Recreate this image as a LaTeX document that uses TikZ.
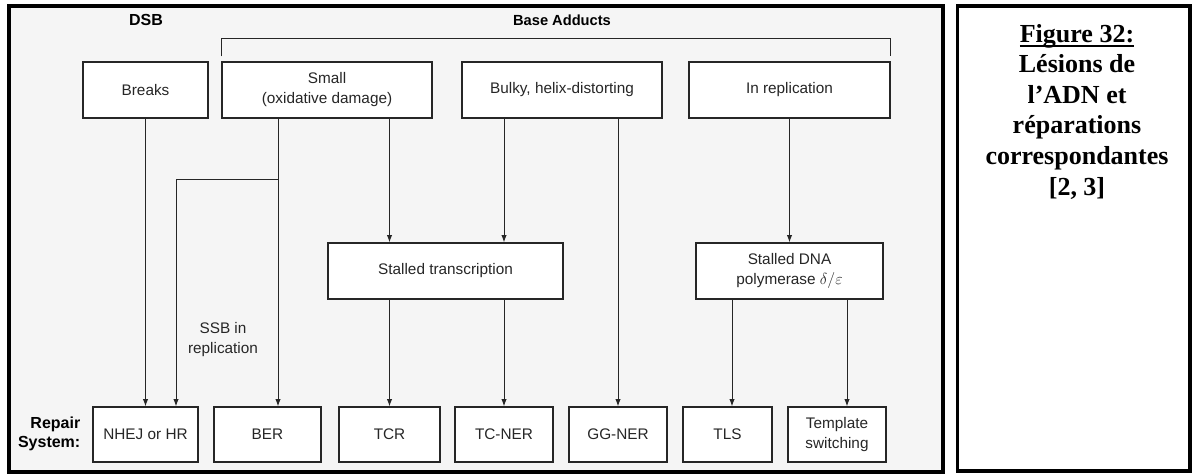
\documentclass[tikz,border=0pt]{standalone}
\usepackage{fontspec}
\setmainfont{Liberation Serif}
\setsansfont{Liberation Sans}
\usetikzlibrary{arrows.meta}

\newcommand{\capuline}[1]{\setbox0\hbox{#1}\rlap{\rule[-3.2pt]{\wd0}{1.4pt}}\box0}

\begin{document}
\begin{tikzpicture}[x=0.75pt, y=-0.75pt, color=black!85, font=\sffamily\fontsize{11.5}{15}\selectfont]
\tikzstyle{block} = [rectangle, draw, fill=white, line width=0.9pt, align=center, inner sep=2pt]
\tikzstyle{lesion} = [block, minimum height=42pt]
\tikzstyle{stall} = [block, minimum height=42pt]
\tikzstyle{repair} = [block, minimum height=41.25pt]
\tikzstyle{heading} = [font=\sffamily\bfseries\fontsize{11}{14}\selectfont, text=black]
\tikzstyle{arrow} = [-{Latex[length=5.5pt,width=4pt]}, line width=0.7pt]
\useasboundingbox (0,0) rectangle (1194,475);
\draw[line width=3pt, fill=black!4, draw=black] (8.7,6) rectangle (942.5,472);
\draw[line width=2.6pt, fill=white, draw=black] (957.5,6) rectangle (1190,471);
\node[heading, font=\sffamily\bfseries\fontsize{12}{14}\selectfont] (dsb) at (146,20) {DSB};
\node[heading] (adducts) at (562,20) {Base Adducts};
\node[lesion, minimum width=93.75pt] (breaks) at (145.5,90) {Breaks};
\node[lesion, minimum width=157.5pt] (small) at (327,90) {Small\\(oxidative damage)};
\node[lesion, minimum width=150pt] (bulky) at (562,90) {Bulky, helix-distorting};
\node[lesion, minimum width=150.75pt] (inrep) at (789.5,90) {In replication};
\node[stall, minimum width=176.25pt] (stalltr) at (445.5,271) {Stalled transcription};
\node[stall, minimum width=140.25pt] (stallpol) at (789.5,271) {Stalled DNA\\polymerase $\delta/\varepsilon$};
\node[repair, minimum width=78.75pt] (nhej) at (145.5,434.5) {NHEJ or HR};
\node[repair, minimum width=80.25pt] (ber) at (267.5,434.5) {BER};
\node[repair, minimum width=75.75pt] (tcr) at (389.5,434.5) {TCR};
\node[repair, minimum width=73.5pt] (tcner) at (504,434.5) {TC-NER};
\node[repair, minimum width=73.5pt] (ggner) at (618,434.5) {GG-NER};
\node[repair, minimum width=66.75pt] (tls) at (727.5,434.5) {TLS};
\node[repair, minimum width=73.5pt] (templ) at (837,434.5) {Template\\switching};
\node[heading, font=\sffamily\bfseries\fontsize{12}{14}\selectfont, anchor=east, align=right] (repsys) at (85,434) {Repair\\System:};
\node[align=center] (ssb) at (223,340) {SSB in\\replication};
\coordinate (ssbx) at (278,179);
\coordinate (hrx) at (176,179);
\coordinate (tlsx) at (732,0);
\coordinate (tsx) at (847,0);
\draw[line width=0.7pt] ([yshift=3.75pt]small.north west) |- ([yshift=17.25pt]inrep.north east) -- ([yshift=3.75pt]inrep.north east);
\draw[arrow] (breaks.south) -- (nhej.north);
\draw[arrow] (small.south -| ssbx) -- (ber.north -| ssbx);
\draw[arrow] (ssbx) -- (hrx) -- (nhej.north -| hrx);
\draw[arrow] (small.south -| tcr) -- (stalltr.north -| tcr);
\draw[arrow] (bulky.south -| tcner) -- (stalltr.north -| tcner);
\draw[arrow] (bulky.south -| ggner) -- (ggner.north);
\draw[arrow] (inrep.south) -- (stallpol.north);
\draw[arrow] (stalltr.south -| tcr) -- (tcr.north);
\draw[arrow] (stalltr.south -| tcner) -- (tcner.north);
\draw[arrow] (stallpol.south -| tlsx) -- (tls.north -| tlsx);
\draw[arrow] (stallpol.south -| tsx) -- (templ.north -| tsx);
\node[font=\rmfamily\bfseries\fontsize{19.5}{22.9}\selectfont, text=black, align=center, anchor=base] (caption) at (1077,195) {\capuline{Figure 32:}\\Lésions de\\l’ADN et\\réparations\\correspondantes\\{}[2, 3]};
\end{tikzpicture}
\end{document}
